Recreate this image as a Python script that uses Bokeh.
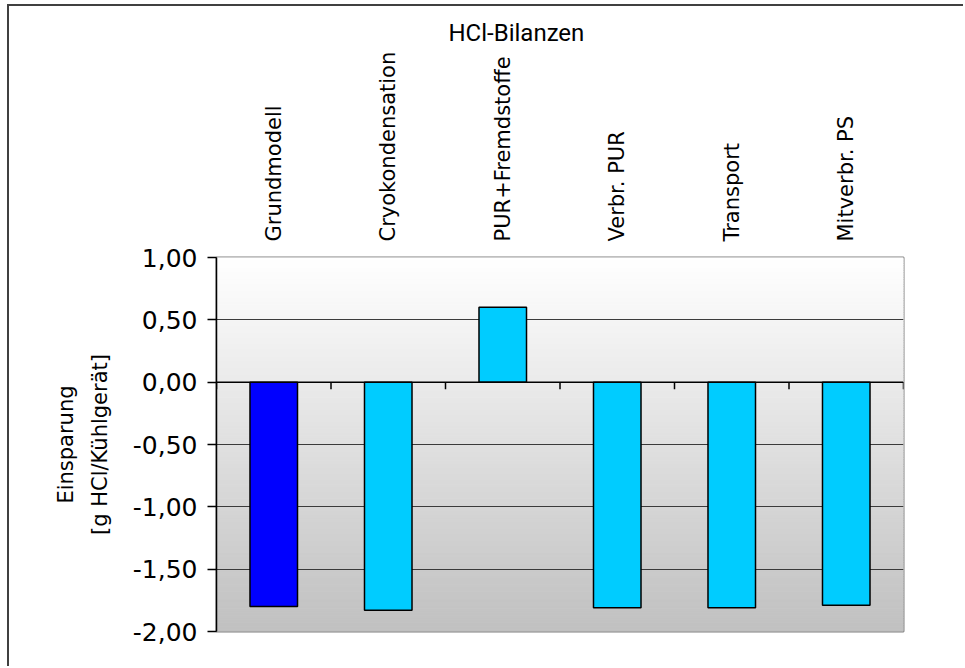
import numpy as np
from bokeh.plotting import figure
from bokeh.models import Range1d, FixedTicker, CustomJSTickFormatter, Span
from bokeh.embed import file_html
from bokeh.resources import INLINE

# ---- data -------------------------------------------------------------
chart_title = "HCl-Bilanzen"
categories = ["Grundmodell", "Cryokondensation", "PUR+Fremdstoffe",
              "Verbr. PUR", "Transport", "Mitverbr. PS"]
savings = [-1.80, -1.83, 0.60, -1.81, -1.81, -1.79]
bar_colors = ["#0000ff", "#00ccff", "#00ccff", "#00ccff", "#00ccff", "#00ccff"]
y_ticks = [-2.0, -1.5, -1.0, -0.5, 0.0, 0.5, 1.0]
y_label_lines = ["Einsparung", "[g HCl/Kühlgerät]"]

# ---- layout (page pixels) ---------------------------------------------
PAGE_W, PAGE_H = 965, 668
OX, OY = 9, 6                      # canvas origin inside the framed box
W, H = PAGE_W - OX, PAGE_H - OY
FRAME_L, FRAME_R, FRAME_T, FRAME_B = 216, 903, 257, 631
frame_h = FRAME_B - FRAME_T
TITLE_LEFT = 448
n = len(categories)
y_lo, y_hi = y_ticks[0], y_ticks[-1]

p = figure(width=W, height=H, output_backend="svg", toolbar_location=None,
           tools="", x_range=Range1d(0, n), y_range=Range1d(y_lo, y_hi),
           x_axis_location="above",
           min_border_left=FRAME_L - OX, min_border_right=OX + W - FRAME_R,
           min_border_top=FRAME_T - OY, min_border_bottom=OY + H - FRAME_B)
# dark chart frame along the left and top edges
p.styles = {"margin-left": f"{OX}px", "margin-top": f"{OY}px",
            "box-shadow": "-2px -2px 0 0 #404040"}
p.background_fill_color = "white"
p.border_fill_color = "white"
p.outline_line_color = "#808080"
p.outline_line_width = 2

# title
p.title.text = chart_title
p.title.align = "left"
p.title.offset = TITLE_LEFT - FRAME_L
p.title.standoff = 4
p.title.text_font = "Roboto"
p.title.text_font_size = "24px"
p.title.text_font_style = "normal"
p.title.text_color = "black"

# vertical grey gradient behind the bars (white at top, silver at bottom)
steps = 160
edges = np.linspace(y_lo, y_hi, steps + 1)
frac = (edges[:-1] + edges[1:]) / 2
frac = (frac - y_lo) / (y_hi - y_lo)
greys = [int(round(192 + 63 * t)) for t in frac]
grad_colors = ["#%02x%02x%02x" % (g, g, g) for g in greys]
p.quad(left=0, right=n, bottom=edges[:-1], top=edges[1:],
       fill_color=grad_colors, line_color=grad_colors, line_width=1,
       level="image")

# horizontal gridlines
p.xgrid.visible = False
p.ygrid.ticker = FixedTicker(ticks=y_ticks)
p.ygrid.grid_line_color = "#3a3a3a"
p.ygrid.grid_line_width = 1

# y axis
ya = p.yaxis[0]
ya.ticker = FixedTicker(ticks=y_ticks)
ya.formatter = CustomJSTickFormatter(code="return tick.toFixed(2).replace('.', ',');")
ya.axis_line_color = "black"
ya.axis_line_width = 1.5
ya.major_tick_line_color = "black"
ya.major_tick_line_width = 1.5
ya.major_tick_out = 9
ya.major_tick_in = 0
ya.minor_tick_line_color = None
ya.major_label_text_font = "DejaVu Sans"
ya.major_label_text_font_size = "25px"
ya.major_label_text_color = "black"
ya.major_label_standoff = 10
ya.axis_label = "\n".join(y_label_lines)
ya.axis_label_text_font = "DejaVu Sans"
ya.axis_label_text_font_size = "21px"
ya.axis_label_text_font_style = "normal"
ya.axis_label_text_color = "black"
ya.axis_label_text_line_height = 1.4
ya.axis_label_standoff = 18

# category axis on top with vertical labels
xa = p.xaxis[0]
xa.ticker = FixedTicker(ticks=[i + 0.5 for i in range(n)])
xa.formatter = CustomJSTickFormatter(args=dict(cats=categories),
                                     code="const i = Math.floor(tick); return cats[i] || '';")
xa.major_label_orientation = np.pi / 2
xa.axis_line_color = None
xa.major_tick_line_color = None
xa.minor_tick_line_color = None
xa.major_tick_out = 0
xa.major_tick_in = 0
xa.major_label_standoff = 16
xa.major_label_text_font = "DejaVu Sans"
xa.major_label_text_font_size = "21px"
xa.major_label_text_color = "black"

# bars
p.vbar(x=[i + 0.5 for i in range(n)], top=savings, bottom=0, width=0.415,
       fill_color=bar_colors, line_color="black", line_width=1.5)

# zero line with category separator ticks
p.add_layout(Span(location=0, dimension="width", line_color="black",
                  line_width=1.5))
tick_len = 7 * (y_hi - y_lo) / frame_h
sep = list(range(n + 1))
p.segment(x0=sep, x1=sep, y0=[0] * len(sep), y1=[-tick_len] * len(sep),
          line_color="black", line_width=1.5)

open("out.html", "w").write(file_html(p, INLINE))
